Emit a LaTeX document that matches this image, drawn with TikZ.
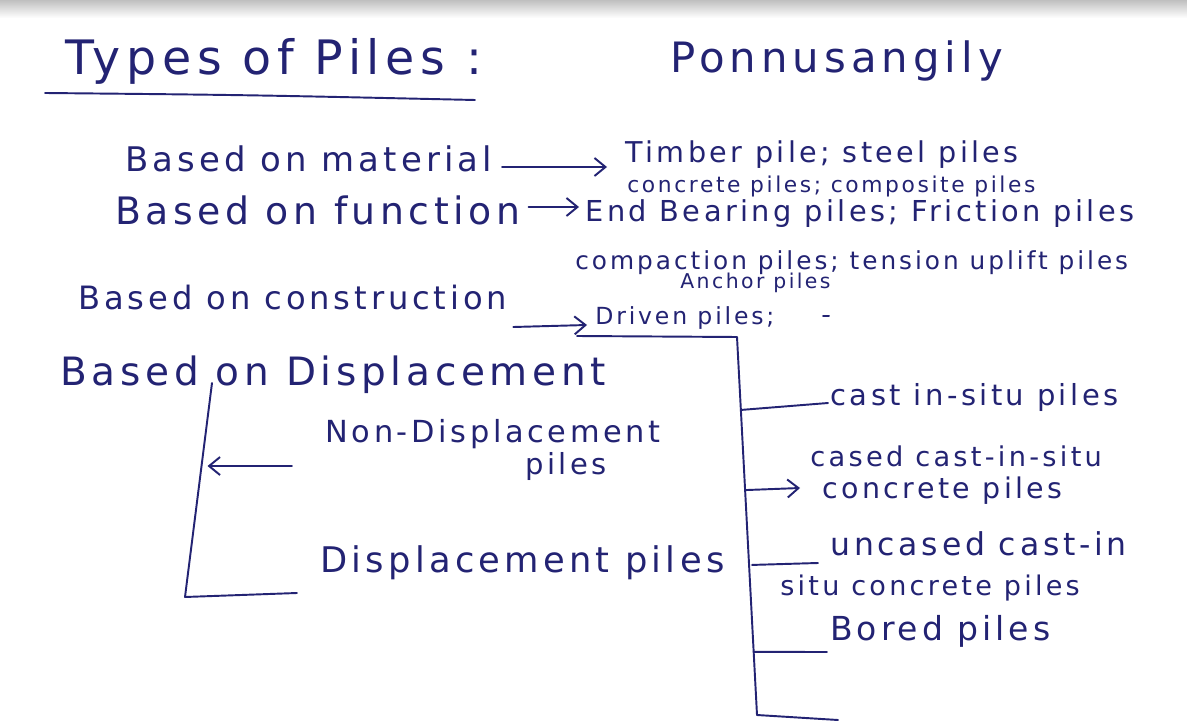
\documentclass[tikz,border=0pt]{standalone}
\usepackage{fontspec}
\setmainfont{DejaVu Sans}[LetterSpace=12]
\usetikzlibrary{calc}
\usetikzlibrary{arrows.meta}

\definecolor{ink}{RGB}{35,35,115}

\tikzset{
	hand/.style={font=\fontsize{#1}{#1}\selectfont, text=ink, inner sep=0pt, anchor=base west},
	pen/.style={draw=ink, line width=1.1pt, line cap=round, line join=round},
	barb/.style={-{Straight Barb[length=2.2mm,width=3.6mm]}}
}

\begin{document}
\begin{tikzpicture}[x=0.2mm, y=-0.2mm]

		\def \W{1187};
		\def \H{726};

		\useasboundingbox (0,0) rectangle (\W,\H);
		\fill[white] (0,0) rectangle (\W,\H);
		\shade[top color=gray!50, bottom color=white] (0,0) rectangle (\W,18);

		% heading
		\node[hand=27] (title) at (65,75) {Types of Piles :};
		\node[hand=23.8] (author) at (670,73) {Ponnusangily};
		\draw[pen] (45,93) .. controls (250,95) .. (475,100);

		% material, function, construction
		\node[hand=19.3] (material) at (125,172) {Based on material};
		\node[hand=16.3] (timber) at (625,163) {Timber pile; steel piles};
		\node[hand=12.4] (concrete) at (627,193) {concrete piles; composite piles};

		\node[hand=21.5] (function) at (115,225) {Based on function};
		\node[hand=16.4] (endbearing) at (585,222) {End Bearing piles; Friction piles};
		\node[hand=14.1] (compaction) at (575,270) {compaction piles; tension uplift piles};
		\node[hand=11.6] (anchorp) at (680,289) {Anchor piles};

		\node[hand=18.3] (construction) at (78,310) {Based on construction};
		\node[hand=13.4] (driven) at (595,325) {Driven piles;};
		\draw[pen] (823,316) -- (829,316);

		\coordinate (matA) at ($(material.base east)+(10,-5)$);
		\coordinate (matB) at ($(timber.base west)+(-18,4)$);
		\draw[pen, barb] (matA) -- (matB);

		\coordinate (funA) at ($(function.base east)+(8,-18)$);
		\coordinate (funB) at ($(endbearing.base west)+(-6,-15)$);
		\draw[pen, barb] (funA) -- (funB);

		\coordinate (consA) at ($(construction.base east)+(6,17)$);
		\coordinate (consB) at ($(driven.base west)+(-8,0)$);
		\draw[pen, barb] (consA) -- (consB);

		% displacement
		\node[hand=22.2] (displacement) at (60,385) {Based on Displacement};
		\node[hand=17.3] (nondisp) at (325,442) {Non-Displacement};
		\node[hand=16.5] (nondisp2) at (525,474) {piles};
		\node[hand=20.1] (disp) at (320,572) {Displacement piles};

		\coordinate (ltop) at (212,383);
		\coordinate (lbot) at (185,597);
		\coordinate (lend) at (297,593);
		\draw[pen] (ltop) -- (lbot) -- (lend);

		\coordinate (l1) at ($(ltop)!0.388!(lbot)$);
		\coordinate (larr) at (292,466);
		\draw[pen, barb] (larr) -- ($(l1)+(6,0)$);

		% construction branches
		\node[hand=16.5] (cast) at (830,405) {cast in-situ piles};
		\node[hand=15.5] (cased) at (810,466) {cased cast-in-situ};
		\node[hand=16.2] (cased2) at (822,498) {concrete piles};
		\node[hand=17.9] (uncased) at (830,555) {uncased cast-in};
		\node[hand=15.4] (uncased2) at (780,595) {situ concrete piles};
		\node[hand=18.8] (bored) at (830,640) {Bored piles};

		\coordinate (rtop) at (737,337);
		\coordinate (rbot) at (757,715);
		\coordinate (rend) at (838,720);
		\draw[pen] ($(consB)+(-10,11)$) -- (rtop) -- (rbot) -- (rend);

		\coordinate (b1) at ($(rtop)!0.193!(rbot)$);
		\coordinate (b2) at ($(rtop)!0.405!(rbot)$);
		\coordinate (b3) at ($(rtop)!0.603!(rbot)$);
		\coordinate (b4) at ($(rtop)!0.833!(rbot)$);

		\draw[pen] (b1) -- ($(cast.base west)+(-2,-2)$);
		\draw[pen, barb] (b2) -- ($(cased2.base west)+(-22,-10)$);
		\draw[pen] ($(b3)+(3,0)$) -- ($(uncased.base west)+(-12,8)$);
		\draw[pen] (b4) -- ($(bored.base west)+(-3,12)$);

	\end{tikzpicture}
\end{document}
